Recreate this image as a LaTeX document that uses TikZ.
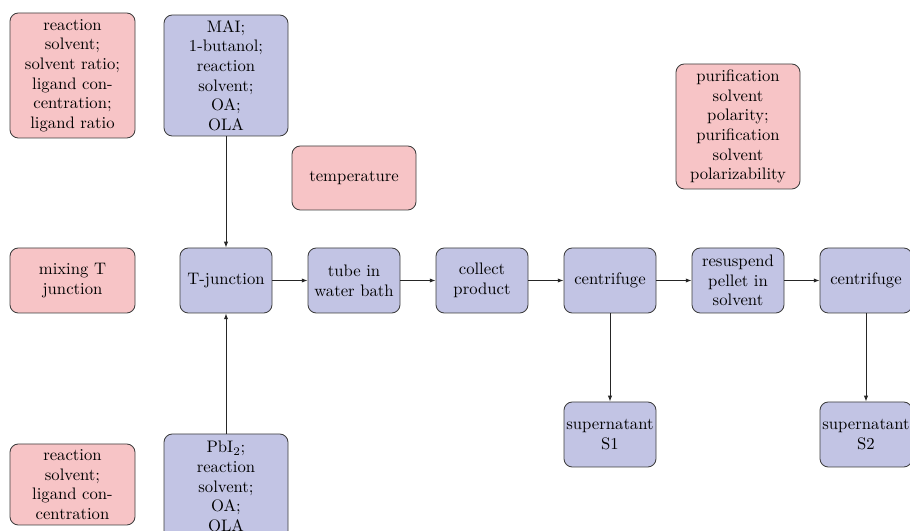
\documentclass[tikz,border=0pt]{standalone}
\usetikzlibrary{arrows.meta}
\definecolor{bluefill}{RGB}{194,196,228}
\definecolor{redfill}{RGB}{247,196,198}
\definecolor{edge}{RGB}{60,60,60}
\begin{document}
\begin{tikzpicture}[x=0.6pt,y=-0.6pt,
  base/.style={draw=edge,line width=0.5pt,rounded corners=5pt,align=center,inner sep=1pt,font=\fontsize{10}{11.8}\selectfont},
  bbox/.style={base,fill=bluefill},
  rbox/.style={base,fill=redfill},
  chain/.style={bbox,minimum width=55.2pt,minimum height=39pt},
  conn/.style={draw=black!85,line width=0.55pt,-{Latex[length=3.5pt,width=2.6pt]}}]
\clip (0,0) rectangle (910,531);
\useasboundingbox (0,0) rectangle (910,531);
% parameter boxes
\node[rbox,minimum width=75pt,minimum height=75pt] (p1) at (72.5,75.5) {reaction\\solvent;\\solvent ratio;\\ligand con-\\centration;\\ligand ratio};
\node[bbox,minimum width=74.4pt,minimum height=72.6pt] (mai) at (226,75.5) {MAI;\\1-butanol;\\reaction\\solvent;\\OA;\\OLA};
\node[rbox,minimum width=74.4pt,minimum height=38.4pt] (temp) at (354,178) {temperature};
\node[rbox,minimum width=74.4pt,minimum height=75pt] (pur) at (738,126.5) {purification\\solvent\\polarity;\\purification\\solvent\\polarizability};
\node[rbox,minimum width=75pt,minimum height=39pt] (mix) at (72.5,280.5) {mixing T\\junction};
\node[rbox,minimum width=75pt,minimum height=48.6pt] (p2) at (72.5,484.5) {reaction\\solvent;\\ligand con-\\centration};
\node[bbox,minimum width=74.4pt,minimum height=63pt] (pbi) at (226,486.5) {PbI$_2$;\\reaction\\solvent;\\OA;\\OLA};
% process chain
\node[chain] (tj) at (226,280.5) {T-junction};
\node[chain] (tube) at (354,280.5) {tube in\\water bath};
\node[chain] (coll) at (482,280.5) {collect\\product};
\node[chain] (cen1) at (610,280.5) {centrifuge};
\node[chain] (res) at (738,280.5) {resuspend\\pellet in\\solvent};
\node[chain] (cen2) at (866,280.5) {centrifuge};
\node[chain] (s1) at (610,434.5) {supernatant\\S1};
\node[chain] (s2) at (866,434.5) {supernatant\\S2};
% connectors
\draw[conn] (mai) -- (tj);
\draw[conn] (pbi) -- (tj);
\draw[conn] (tj) -- (tube);
\draw[conn] (tube) -- (coll);
\draw[conn] (coll) -- (cen1);
\draw[conn] (cen1) -- (res);
\draw[conn] (res) -- (cen2);
\draw[conn] (cen1) -- (s1);
\draw[conn] (cen2) -- (s2);
\end{tikzpicture}
\end{document}
